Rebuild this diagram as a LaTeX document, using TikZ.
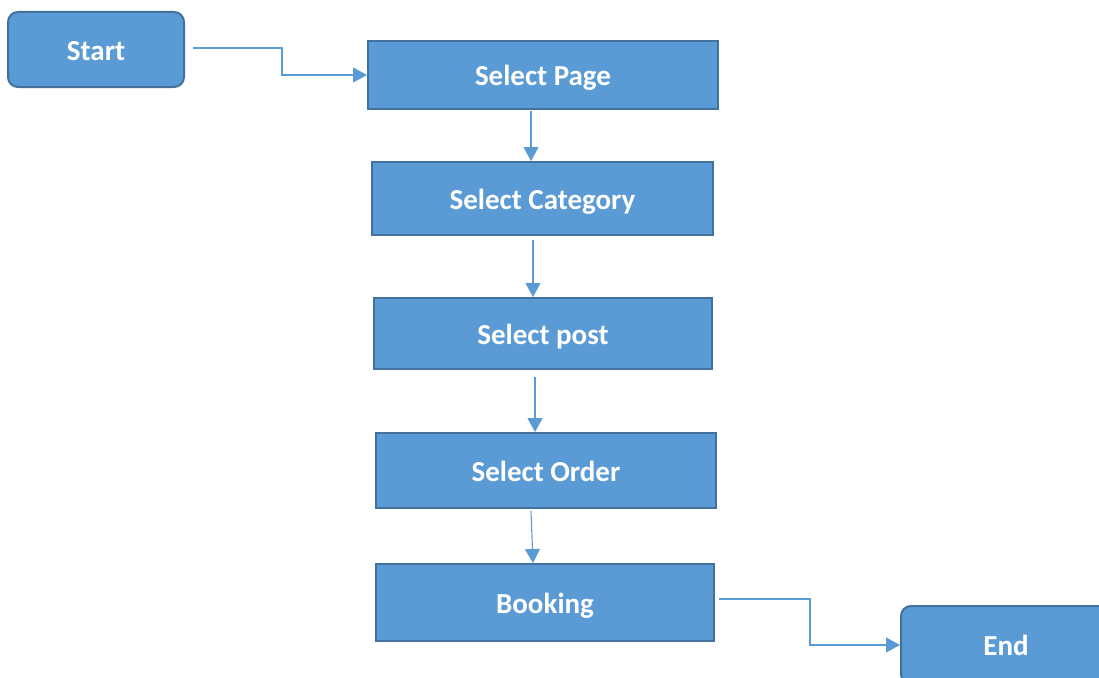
\documentclass[tikz,border=0pt]{standalone}
\usepackage{fontspec}
\setmainfont{Carlito}
\usetikzlibrary{arrows.meta}
\definecolor{boxfill}{HTML}{5B9BD5}
\definecolor{boxline}{HTML}{41719C}
\definecolor{conn}{HTML}{5B9BD5}
\begin{document}
\begin{tikzpicture}[x=1pt,y=-1pt,
  box/.style={draw=boxline,line width=2pt,fill=boxfill,text=white,font=\fontsize{29}{33}\selectfont\bfseries,inner sep=0pt,text height=22pt,text depth=1pt},
  rbox/.style={box,rounded corners=10pt},
  link/.style={draw=conn,line width=1.1pt,-{Triangle[length=14pt,width=15pt]}}]
\useasboundingbox (0,0) rectangle (1099,677);
\node[rbox,minimum width=176pt,minimum height=75pt] (start) at (96,49.5) {Start};
\node[box,minimum width=350pt,minimum height=68pt] (page) at (543,75) {Select Page};
\node[box,minimum width=341pt,minimum height=73pt] (cat) at (542.5,198.5) {Select Category};
\node[box,minimum width=338pt,minimum height=71pt] (post) at (543,333.5) {Select post};
\node[box,minimum width=340pt,minimum height=75pt] (order) at (546,470.5) {Select Order};
\node[box,minimum width=338pt,minimum height=77pt] (book) at (545,602.5) {Booking};
\node[rbox,minimum width=210pt,minimum height=78pt] (end) at (1006,645) {End};
\coordinate (s1) at (193,48);
\coordinate (b1) at (719,599);
\coordinate (p1) at (531,111);
\coordinate (c1) at (533,240);
\coordinate (q1) at (535,377);
\coordinate (o1) at (531,511);
\draw[link] (s1) -- (282,48) |- (page.west);
\draw[link] (p1) -- (p1 |- cat.north);
\draw[link] (c1) -- (c1 |- post.north);
\draw[link] (q1) -- (q1 |- order.north);
\draw[link] (o1) -- (533,0 |- book.north);
\draw[link] (b1) -- (810,599) |- (end.west);
\end{tikzpicture}
\end{document}
